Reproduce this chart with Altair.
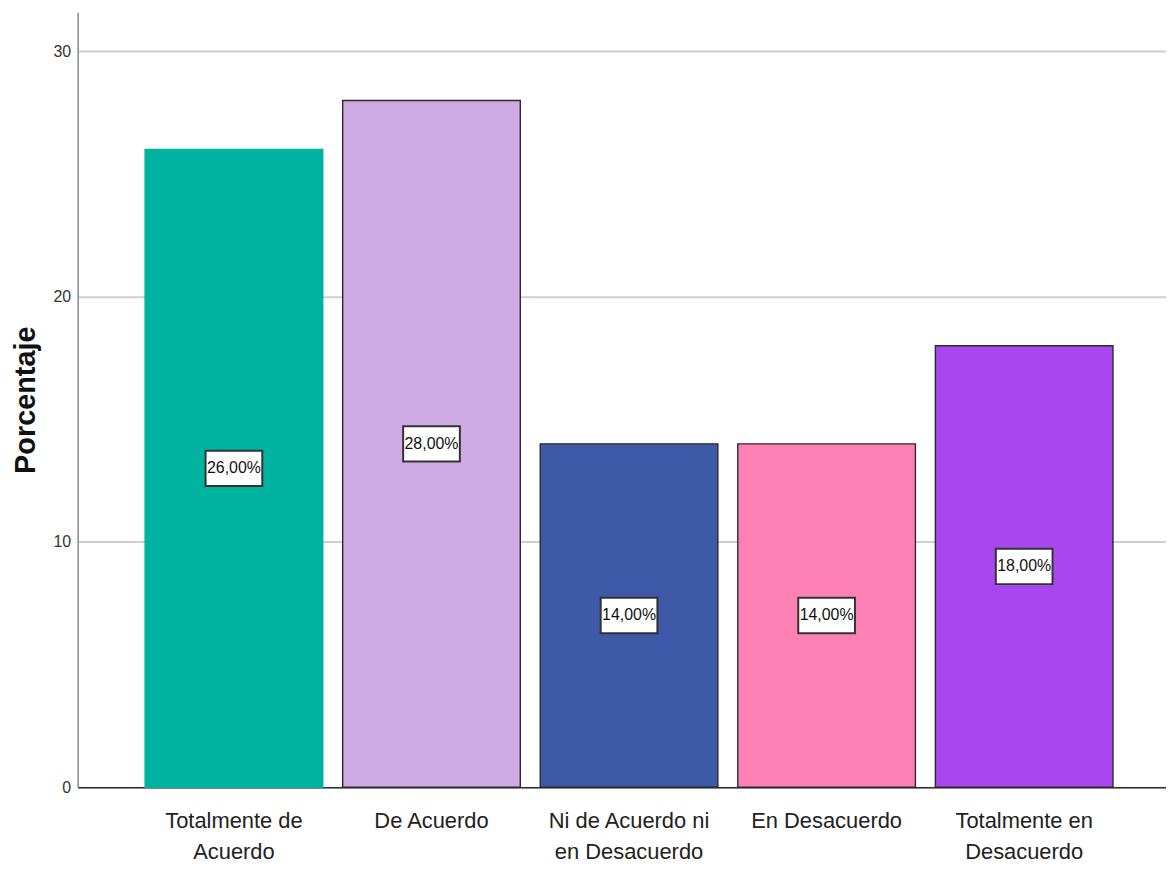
import altair as alt
import pandas as pd

categories = ["Totalmente de Acuerdo", "De Acuerdo", "Ni de Acuerdo ni en Desacuerdo",
              "En Desacuerdo", "Totalmente en Desacuerdo"]
label_lines = [["Totalmente de", "Acuerdo"], ["De Acuerdo"], ["Ni de Acuerdo ni", "en Desacuerdo"],
               ["En Desacuerdo"], ["Totalmente en", "Desacuerdo"]]
values = [26, 28, 14, 14, 18]
labels = ["26,00%", "28,00%", "14,00%", "14,00%", "18,00%"]
colors = ["#00B2A0", "#D0AAE4", "#3D59A8", "#FF80B5", "#A846F0"]
strokes = ["#00B2A0", "#2a2a2a", "#2a2a2a", "#2a2a2a", "#2a2a2a"]

df = pd.DataFrame({"cat": categories, "v": values, "lab": labels})

FONT = "Liberation Sans, Arial"

expr_parts = []
for c, lines in zip(categories, label_lines):
    arr = "[" + ",".join("'%s'" % l for l in lines) + "]"
    expr_parts.append("datum.label == '%s' ? %s" % (c, arr))
label_expr = " : ".join(expr_parts) + " : datum.label"

x = alt.X("cat:N", sort=categories, title=None,
          scale=alt.Scale(paddingInner=0.101, paddingOuter=0.305, align=0.56),
          axis=alt.Axis(labelAngle=0, labelExpr=label_expr, labelFont=FONT, labelFontSize=22,
                        labelColor="#222222", labelPadding=24, ticks=False,
                        domainColor="#333333", domainWidth=1.5, labelLineHeight=31))

base = alt.Chart(df)

bars = base.mark_bar(strokeWidth=1.4).encode(
    x=x,
    y=alt.Y("v:Q", title="Porcentaje",
            scale=alt.Scale(domain=[0, 31.6], nice=False),
            axis=alt.Axis(values=[0, 10, 20, 30], grid=True, gridColor="#cfcfcf", gridWidth=2,
                          ticks=False, labelFont=FONT, labelFontSize=16, labelColor="#333333",
                          labelPadding=7, domainColor="#888888", domainWidth=1.5,
                          titleFont=FONT, titleFontSize=29, titleFontWeight="bold",
                          titleColor="#111111", titlePadding=13)),
    color=alt.Color("cat:N", scale=alt.Scale(domain=categories, range=colors), legend=None),
    stroke=alt.Stroke("cat:N", scale=alt.Scale(domain=categories, range=strokes), legend=None),
)

boxes = base.transform_calculate(
    lo="datum.v/2 - 0.72", hi="datum.v/2 + 0.72"
).mark_bar(size=57, color="white", stroke="#333333", strokeWidth=2).encode(
    x=alt.X("cat:N", sort=categories),
    y="lo:Q", y2="hi:Q",
)

texts = base.transform_calculate(mid="datum.v/2").mark_text(
    font=FONT, fontSize=16, color="#111111", baseline="middle", align="center"
).encode(
    x=alt.X("cat:N", sort=categories),
    y="mid:Q",
    text="lab:N",
)

chart = alt.layer(bars, boxes, texts).properties(
    width=1094, height=779,
    autosize=alt.AutoSizeParams(type="none"),
    padding={"left": 70, "top": 2, "right": 0, "bottom": 80},
).configure_view(stroke=None)

chart.save("out.html", embed_options={"renderer": "svg", "actions": False})
